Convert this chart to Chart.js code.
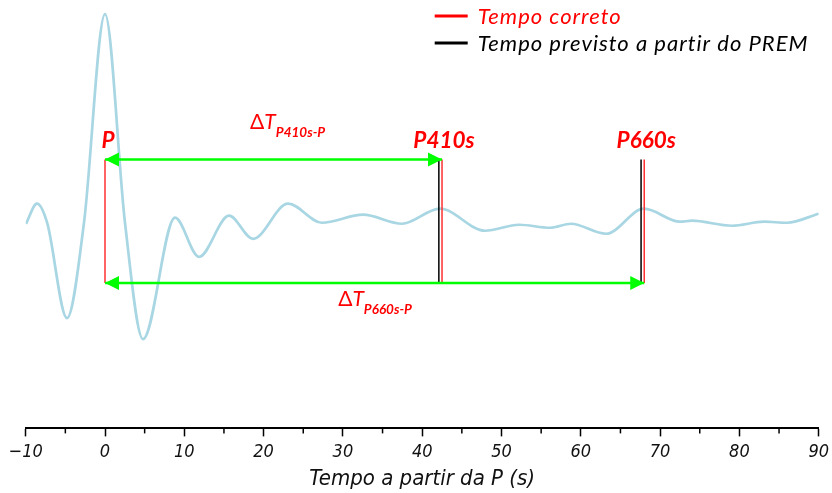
<!DOCTYPE html>
<html>
<head>
<meta charset="utf-8">
<script src="https://cdn.jsdelivr.net/npm/chart.js@4.4.1/dist/chart.umd.min.js"></script>
<style>
  html, body { margin: 0; padding: 0; background: #fff; }
  #wrap { width: 832px; height: 493px; }
</style>
</head>
<body>
<div id="wrap"><canvas id="sismograma"></canvas></div>
<script>
// sismograma: tempo relativo à chegada da P (s) e amplitude
const waveTime = [-9.96, -8.58, -7.3, -4.79, -2.65, 0, 2.52, 4.79, 8.83, 11.85, 15.64, 18.66,
                  23.08, 27.36, 32.53, 37.45, 42.24, 47.92, 52.21, 56.12, 58.76, 63.18,
                  67.97, 72.51, 74.02, 79.07, 83.10, 86.00, 90.0];
const waveAmp  = [-0.01, 0.19, 0.0, -0.95, 0.0, 2.08, 0.0, -1.16, 0.05, -0.34, 0.07, -0.16,
                  0.19, 0.0, 0.08, -0.01, 0.14, -0.08, -0.02, -0.05, -0.01, -0.11,
                  0.14, 0.01, 0.02, -0.03, 0.01, 0.0, 0.09];

// chegadas: tempo correto e tempo previsto pelo PREM
const phaseNames   = ['P', 'P410s', 'P660s'];
const observedTime = [0, 42.5, 68.0];
const premTime     = [null, 42.1, 67.6];

// altura das marcas verticais / setas (mesma unidade da amplitude)
const markTop = 0.63;
const markBottom = -0.60;

const tickValues = [-10, 0, 10, 20, 30, 40, 50, 60, 70, 80, 90];
const tickLabels = ['\u221210', '0', '10', '20', '30', '40', '50', '60', '70', '80', '90'];
const minorTicks = [-5, 5, 15, 25, 35, 45, 55, 65, 75, 85];

const legendLabels = ['Tempo correto', 'Tempo previsto a partir do PREM'];
const legendColors = ['#ff0000', '#000000'];

const RED = '#ff0000';
const GREEN = '#00ff00';
const annFont = '"Lato", "Open Sans", sans-serif';
const axisFont = '"Liberation Sans Narrow", "DejaVu Sans Condensed", sans-serif';

const datasets = [];

// setas delta T (linhas; as pontas são desenhadas no plugin)
datasets.push({
    data: [{x: observedTime[0], y: markTop}, {x: observedTime[1], y: markTop}],
    borderColor: GREEN, borderWidth: 2.5, pointRadius: 0, order: 1
});
datasets.push({
    data: [{x: observedTime[0], y: markBottom}, {x: observedTime[2], y: markBottom}],
    borderColor: GREEN, borderWidth: 2.5, pointRadius: 0, order: 1
});

// marcas verticais
premTime.forEach((t) => {
    if (t === null) return;
    datasets.push({
        data: [{x: t, y: markTop}, {x: t, y: markBottom}],
        borderColor: '#000', borderWidth: 1.5, pointRadius: 0, order: 2
    });
});
observedTime.forEach((t) => {
    datasets.push({
        data: [{x: t, y: markTop}, {x: t, y: markBottom}],
        borderColor: '#ff3030', borderWidth: 1.5, pointRadius: 0, order: 2
    });
});

// traço sísmico
datasets.push({
    data: waveTime.map((t, i) => ({x: t, y: waveAmp[i]})),
    borderColor: '#a8d6e3', borderWidth: 2.7, pointRadius: 0,
    cubicInterpolationMode: 'monotone', order: 10
});

function arrowHead(ctx, x, y, dir) {
    ctx.beginPath();
    ctx.moveTo(x, y);
    ctx.lineTo(x - dir * 14, y - 7);
    ctx.lineTo(x - dir * 14, y + 7);
    ctx.closePath();
    ctx.fill();
}

function deltaLabel(ctx, x, y, sub) {
    ctx.fillStyle = RED;
    ctx.textBaseline = 'alphabetic';
    ctx.textAlign = 'left';
    ctx.font = '21px ' + annFont;
    ctx.fillText('\u0394', x, y);
    x += ctx.measureText('\u0394').width;
    ctx.font = 'italic 21px ' + annFont;
    ctx.fillText('T', x, y);
    x += ctx.measureText('T').width;
    ctx.font = 'italic bold 13.5px ' + annFont;
    ctx.fillText(sub, x, y + 8);
}

const annotations = {
    id: 'annotations',
    afterDatasetsDraw(chart) {
        const ctx = chart.ctx;
        const xs = chart.scales.x, ys = chart.scales.y;
        const yTop = ys.getPixelForValue(markTop);
        const yBot = ys.getPixelForValue(markBottom);
        ctx.save();
        ctx.fillStyle = GREEN;
        arrowHead(ctx, xs.getPixelForValue(observedTime[0]), yTop, -1);
        arrowHead(ctx, xs.getPixelForValue(observedTime[1]), yTop, 1);
        arrowHead(ctx, xs.getPixelForValue(observedTime[0]), yBot, -1);
        arrowHead(ctx, xs.getPixelForValue(observedTime[2]), yBot, 1);

        // nomes das fases
        ctx.fillStyle = RED;
        ctx.font = 'italic bold 22.5px ' + annFont;
        ctx.textAlign = 'center';
        ctx.textBaseline = 'alphabetic';
        phaseNames.forEach((name, i) => {
            const x = xs.getPixelForValue(observedTime[i]) + (i === 0 ? 3 : 2);
            ctx.fillText(name, x, yTop - 12);
        });

        deltaLabel(ctx, xs.getPixelForValue(18.3), yTop - 31, 'P410s-P');
        deltaLabel(ctx, xs.getPixelForValue(29.4), yBot + 23, 'P660s-P');

        // legenda
        const lx = chart.chartArea.right - 384;
        legendLabels.forEach((txt, i) => {
            const ly = 16 + i * 27;
            ctx.strokeStyle = legendColors[i];
            ctx.lineWidth = 3;
            ctx.beginPath();
            ctx.moveTo(lx, ly);
            ctx.lineTo(lx + 33, ly);
            ctx.stroke();
            ctx.fillStyle = legendColors[i];
            ctx.font = 'italic 22px ' + annFont;
            ctx.letterSpacing = '1px';
            ctx.textAlign = 'left';
            ctx.textBaseline = 'middle';
            ctx.fillText(txt, lx + 43, ly + 1);
        });
        ctx.restore();
    },
    afterDraw(chart) {
        // marcas menores do eixo
        const ctx = chart.ctx;
        const xs = chart.scales.x;
        const y0 = chart.chartArea.bottom;
        ctx.save();
        ctx.strokeStyle = '#000';
        ctx.lineWidth = 1.5;
        minorTicks.forEach((v) => {
            const x = xs.getPixelForValue(v);
            ctx.beginPath();
            ctx.moveTo(x, y0);
            ctx.lineTo(x, y0 + 5);
            ctx.stroke();
        });
        ctx.restore();
    }
};

new Chart(document.getElementById('sismograma').getContext('2d'), {
    type: 'line',
    data: { datasets: datasets },
    options: {
        responsive: true,
        maintainAspectRatio: false,
        animation: false,
        layout: { padding: { left: 25.7, right: 13.3, top: 0, bottom: 3 } },
        elements: { line: { clip: false } },
        plugins: { legend: { display: false }, tooltip: { enabled: false } },
        scales: {
            x: {
                type: 'linear', min: -10, max: 90,
                afterFit(scale) { scale.paddingLeft = 0; scale.paddingRight = 0; },
                afterBuildTicks(scale) { scale.ticks = tickValues.map(v => ({value: v})); },
                ticks: {
                    autoSkip: false, maxRotation: 0, padding: 5, color: '#111',
                    font: { family: axisFont, size: 18, style: 'italic' },
                    callback: (v) => tickLabels[tickValues.indexOf(v)]
                },
                grid: { drawOnChartArea: false, tickLength: 8, tickWidth: 1.5, tickColor: '#000' },
                border: { color: '#000', width: 2 },
                title: {
                    display: true, text: 'Tempo a partir da P (s)', color: '#111',
                    font: { family: axisFont, size: 22, style: 'italic', lineHeight: 1.0 },
                    padding: { top: 0, bottom: 0 }
                }
            },
            y: { display: false, min: -2.05, max: 2.22 }
        }
    },
    plugins: [annotations]
});
</script>
</body>
</html>
